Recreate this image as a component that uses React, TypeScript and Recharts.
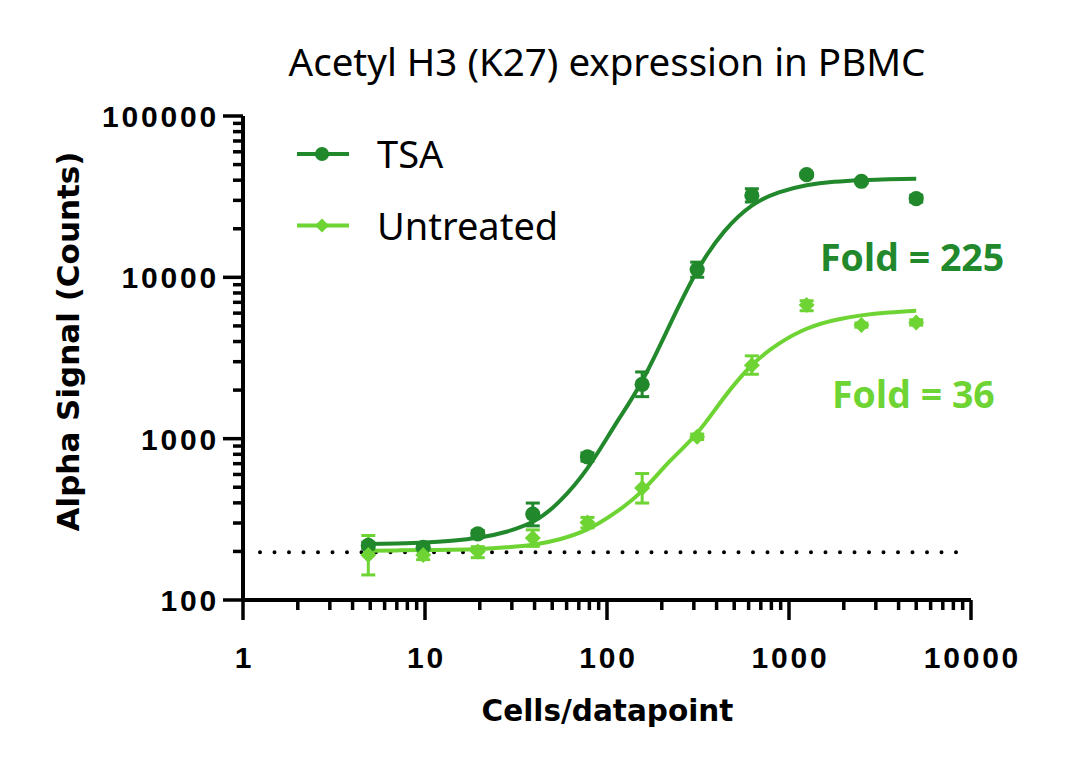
import React from 'react';
import {
  ComposedChart,
  Line,
  Scatter,
  XAxis,
  YAxis,
  ErrorBar,
  ReferenceLine,
  Legend,
  Customized,
} from 'recharts';

// ---- data ----
const DOSES = [4.88, 9.77, 19.5, 39.1, 78.1, 156, 313, 625, 1250, 2500, 5000];

const TSA_MEAN = [218, 212, 257, 341, 771, 2173, 11170, 32200, 43300, 39400, 30760];
const TSA_ERR_LOW = [10, 8, 12, 53, 45, 351, 1160, 2900, 1000, 1000, 1500];
const TSA_ERR_HIGH = [10, 8, 12, 58, 45, 419, 1250, 3200, 1000, 1000, 1500];

const UNT_MEAN = [190, 190, 200, 242, 302, 495, 1028, 2853, 6735, 5058, 5257];
const UNT_ERR_LOW = [47, 12, 17, 27, 22, 96, 40, 345, 525, 150, 200];
const UNT_ERR_HIGH = [61, 12, 14, 30, 23, 113, 40, 407, 425, 150, 200];

const FIT_X = [4.88, 7, 10, 14, 20, 28, 40, 55, 78, 110, 156, 220, 312, 440, 625, 880, 1250, 1770, 2500, 3540, 5000];
const TSA_FIT = [222, 224, 227, 233, 244, 265, 310, 410, 655, 1200, 2280, 5000, 10900, 19200, 27800, 33600, 37200, 39100, 40000, 40500, 40800];
const UNT_FIT = [202, 203, 204, 205, 207, 212, 221, 238, 274, 345, 475, 720, 1080, 1800, 2850, 3880, 4800, 5420, 5810, 6050, 6210];

const BASELINE = 198;
const BASELINE_X = [1.24, 8375];

const X_MAJOR = [1, 10, 100, 1000, 10000];
const Y_MAJOR = [100, 1000, 10000, 100000];
const MINOR_MULT = [2, 3, 4, 5, 6, 7, 8, 9];

const TITLE = 'Acetyl H3 (K27) expression in PBMC';
const X_LABEL = 'Cells/datapoint';
const Y_LABEL = 'Alpha Signal (Counts)';
const SERIES_NAMES = ['TSA', 'Untreated'];
const FOLD_LABELS = ['Fold = 225', 'Fold = 36'];

const TSA_COLOR = '#21882c';
const UNT_COLOR = '#6dd433';

// ---- derived tables ----
const withMinors = (majors: number[]) => {
  const out: number[] = [];
  majors.forEach((m, i) => {
    out.push(m);
    if (i < majors.length - 1) MINOR_MULT.forEach((k) => out.push(m * k));
  });
  return out;
};
const X_TICKS = withMinors(X_MAJOR);
const Y_TICKS = withMinors(Y_MAJOR);

const tsaPoints = DOSES.map((x, i) => ({ x, y: TSA_MEAN[i], err: [TSA_ERR_LOW[i], TSA_ERR_HIGH[i]] }));
const untPoints = DOSES.map((x, i) => ({ x, y: UNT_MEAN[i], err: [UNT_ERR_LOW[i], UNT_ERR_HIGH[i]] }));
const tsaFit = FIT_X.map((x, i) => ({ x, y: TSA_FIT[i] }));
const untFit = FIT_X.map((x, i) => ({ x, y: UNT_FIT[i] }));

const TICK_FONT = { fontFamily: '"Liberation Sans", Arial, sans-serif', fontWeight: 700, fontSize: 30, letterSpacing: 2.8 };
const PLAIN_FONT = '"Noto Sans", sans-serif';
const LABEL_FONT = '"DejaVu Sans", sans-serif';
const FOLD_FONT = '"Open Sans", sans-serif';

const XTick = (props: any) => {
  const { x, y, payload } = props;
  const v = payload.value;
  const major = X_MAJOR.includes(v);
  return (
    <g>
      <line x1={x} y1={y} x2={x} y2={y + (major ? 20 : 10)} stroke="#000" strokeWidth={3.5} />
      {major && (
        <text x={x + 1.4} y={y + 68} textAnchor="middle" fill="#000" style={TICK_FONT}>
          {String(v)}
        </text>
      )}
    </g>
  );
};

const YTick = (props: any) => {
  const { x, y, payload } = props;
  const v = payload.value;
  const major = Y_MAJOR.includes(v);
  return (
    <g>
      <line x1={x - (major ? 20 : 10)} y1={y} x2={x} y2={y} stroke="#000" strokeWidth={3.5} />
      {major && (
        <text x={x - 24} y={y + 11} textAnchor="end" fill="#000" style={TICK_FONT}>
          {String(v)}
        </text>
      )}
    </g>
  );
};

const circleShape = (p: any) => <circle cx={p.cx} cy={p.cy} r={7.6} fill={TSA_COLOR} />;
const diamondShape = (p: any) => (
  <polygon
    points={`${p.cx},${p.cy - 8} ${p.cx + 8},${p.cy} ${p.cx},${p.cy + 8} ${p.cx - 8},${p.cy}`}
    fill={UNT_COLOR}
  />
);

const LegendContent = () => (
  <svg width={320} height={140} style={{ overflow: 'visible' }}>
    {SERIES_NAMES.map((name, i) => {
      const cy = 34 + i * 71.5;
      const color = i === 0 ? TSA_COLOR : UNT_COLOR;
      return (
        <g key={name}>
          <line x1={7} y1={cy} x2={59} y2={cy} stroke={color} strokeWidth={4} />
          {i === 0 ? (
            <circle cx={32} cy={cy} r={7} fill={color} />
          ) : (
            <polygon points={`32,${cy - 7} 39,${cy} 32,${cy + 7} 25,${cy}`} fill={color} />
          )}
          <text x={87} y={cy + 14} fontFamily={PLAIN_FONT} fontSize={38} fill="#000">
            {name}
          </text>
        </g>
      );
    })}
  </svg>
);

const Annotations = () => (
  <g>
    <text x={607} y={76} textAnchor="middle" fontFamily={PLAIN_FONT} fontSize={38.5} fill="#000">
      {TITLE}
    </text>
    <text x={607.5} y={721} textAnchor="middle" fontFamily={LABEL_FONT} fontWeight={700} fontSize={29.5} fill="#000">
      {X_LABEL}
    </text>
    <text
      x={79}
      y={341.5}
      textAnchor="middle"
      transform="rotate(-90 79 341.5)"
      fontFamily={LABEL_FONT}
      fontWeight={700}
      fontSize={31}
      fill="#000"
    >
      {Y_LABEL}
    </text>
    <text x={820} y={271} fontFamily={FOLD_FONT} fontWeight={700} fontSize={37.5} fill={TSA_COLOR}>
      {FOLD_LABELS[0]}
    </text>
    <text x={832} y={408} fontFamily={FOLD_FONT} fontWeight={700} fontSize={37.5} fill={UNT_COLOR}>
      {FOLD_LABELS[1]}
    </text>
  </g>
);

export default function App() {
  return (
    <div style={{ position: 'absolute', left: 0, top: 0, width: 1080, height: 771, background: '#fff' }}>
      <ComposedChart width={1080} height={771} margin={{ top: 116, right: 109, bottom: 0, left: 0 }}>
        <XAxis
          type="number"
          dataKey="x"
          scale="log"
          domain={[1, 10000]}
          allowDataOverflow
          ticks={X_TICKS}
          interval={0}
          tickSize={0}
          tickMargin={0}
          tickLine={false}
          tick={<XTick />}
          axisLine={{ stroke: '#000', strokeWidth: 4 }}
          height={171}
        />
        <YAxis
          type="number"
          dataKey="y"
          scale="log"
          domain={[100, 100000]}
          allowDataOverflow
          ticks={Y_TICKS}
          interval={0}
          tickSize={0}
          tickMargin={0}
          tickLine={false}
          tick={<YTick />}
          axisLine={{ stroke: '#000', strokeWidth: 4 }}
          width={243}
        />
        <ReferenceLine
          segment={[
            { x: BASELINE_X[0], y: BASELINE },
            { x: BASELINE_X[1], y: BASELINE },
          ]}
          stroke="#000"
          strokeWidth={4}
          strokeDasharray="0 14.5"
          strokeLinecap="round"
          ifOverflow="visible"
        />
        <Line
          data={tsaFit}
          dataKey="y"
          name={SERIES_NAMES[0]}
          type="natural"
          stroke={TSA_COLOR}
          strokeWidth={4}
          dot={false}
          activeDot={false}
          isAnimationActive={false}
        />
        <Line
          data={untFit}
          dataKey="y"
          name={SERIES_NAMES[1]}
          type="natural"
          stroke={UNT_COLOR}
          strokeWidth={4}
          dot={false}
          activeDot={false}
          isAnimationActive={false}
        />
        <Scatter data={tsaPoints} dataKey="y" name="TSA points" shape={circleShape} legendType="none" isAnimationActive={false}>
          <ErrorBar dataKey="err" direction="y" width={7} stroke={TSA_COLOR} strokeWidth={3} isAnimationActive={false} />
        </Scatter>
        <Scatter data={untPoints} dataKey="y" name="Untreated points" shape={diamondShape} legendType="none" isAnimationActive={false}>
          <ErrorBar dataKey="err" direction="y" width={7} stroke={UNT_COLOR} strokeWidth={3} isAnimationActive={false} />
        </Scatter>
        <Legend
          layout="vertical"
          verticalAlign="middle"
          align="center"
          content={<LegendContent />}
          wrapperStyle={{ position: 'absolute', left: 290, top: 120, width: 320, height: 140 }}
        />
        <Customized component={<Annotations />} />
      </ComposedChart>
    </div>
  );
}
